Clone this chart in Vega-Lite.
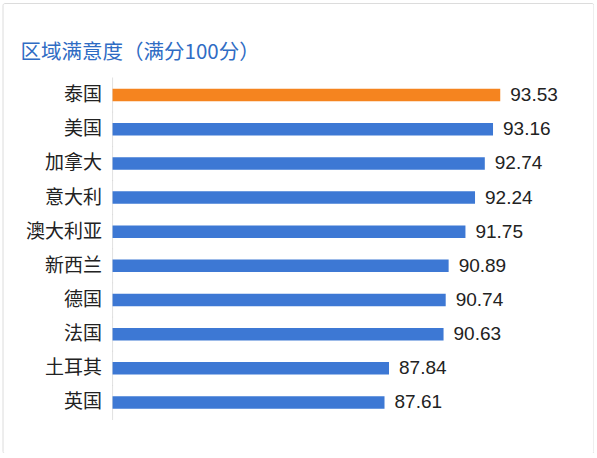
{
  "$schema": "https://vega.github.io/schema/vega-lite/v6.json",
  "autosize": "none",
  "padding": {"left": 2.5, "top": 3, "right": 0, "bottom": 0},
  "width": 591,
  "height": 450,
  "title": {
    "text": "区域满意度（满分100分）",
    "font": "Noto Sans CJK SC",
    "fontSize": 20.5,
    "fontWeight": "normal",
    "color": "#2F6CC4",
    "anchor": "start",
    "frame": "group",
    "baseline": "middle",
    "dx": 18,
    "offset": -70
  },
  "data": {
    "values": [
      {"country": "泰国", "score": 93.53},
      {"country": "美国", "score": 93.16},
      {"country": "加拿大", "score": 92.74},
      {"country": "意大利", "score": 92.24},
      {"country": "澳大利亚", "score": 91.75},
      {"country": "新西兰", "score": 90.89},
      {"country": "德国", "score": 90.74},
      {"country": "法国", "score": 90.63},
      {"country": "土耳其", "score": 87.84},
      {"country": "英国", "score": 87.61}
    ]
  },
  "encoding": {
    "y": {
      "field": "country",
      "type": "nominal",
      "sort": null,
      "title": null,
      "scale": {"paddingInner": 0, "paddingOuter": 0, "range": [75, 416.5]},
      "axis": {
        "orient": "left",
        "offset": -110,
        "domain": false,
        "ticks": false,
        "labelPadding": 11,
        "labelFont": "Noto Sans CJK SC",
        "labelFontSize": 19,
        "labelColor": "#222222"
      }
    }
  },
  "layer": [
    {
      "mark": {"type": "tick", "color": "#d4d4d4", "thickness": 1, "size": 35},
      "encoding": {
        "x": {"datum": 73.7, "type": "quantitative", "scale": {"domain": [68.07, 98.3], "zero": false, "nice": false}, "axis": null}
      }
    },
    {
      "mark": {"type": "bar", "size": 12.5},
      "encoding": {
        "x": {"field": "score", "type": "quantitative", "scale": {"domain": [68.07, 98.3], "zero": false, "nice": false}, "axis": null},
        "x2": {"datum": 73.7},
        "color": {
          "condition": {"test": "datum.country === '泰国'", "value": "#F5841F"},
          "value": "#3D78D4"
        }
      }
    },
    {
      "mark": {"type": "text", "align": "left", "baseline": "middle", "dx": 10, "font": "Liberation Sans", "fontSize": 19, "color": "#222222"},
      "encoding": {
        "x": {"field": "score", "type": "quantitative", "scale": {"domain": [68.07, 98.3], "zero": false, "nice": false}, "axis": null},
        "text": {"field": "score", "type": "quantitative", "format": ".2f"}
      }
    }
  ],
  "config": {
    "background": "white",
    "view": {"stroke": "#dcdcdc", "strokeWidth": 1, "cornerRadius": 2}
  }
}
